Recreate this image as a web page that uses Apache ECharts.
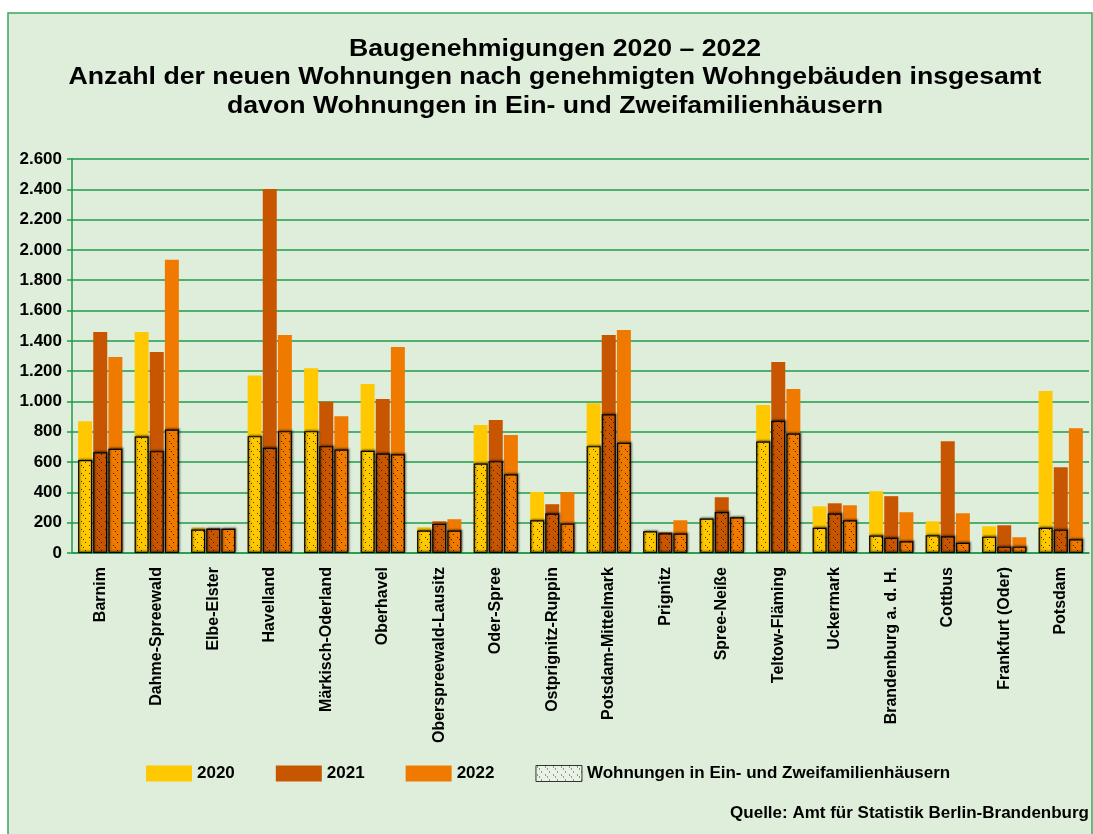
<!DOCTYPE html>
<html>
<head>
<meta charset="utf-8">
<script src="https://cdn.jsdelivr.net/npm/echarts@6/dist/echarts.min.js"></script>
<style>
html, body { margin: 0; padding: 0; background: #fff; }
#chart { width: 1093px; height: 834px; }
</style>
</head>
<body>
<div id="chart"></div>
<script>
/********** Daten **********/
var kreise = ['Barnim', 'Dahme-Spreewald', 'Elbe-Elster', 'Havelland', 'Märkisch-Oderland', 'Oberhavel',
    'Oberspreewald-Lausitz', 'Oder-Spree', 'Ostprignitz-Ruppin', 'Potsdam-Mittelmark', 'Prignitz',
    'Spree-Neiße', 'Teltow-Fläming', 'Uckermark', 'Brandenburg a. d. H.', 'Cottbus', 'Frankfurt (Oder)', 'Potsdam'];

var jahre = ['2020', '2021', '2022'];

// Wohnungen insgesamt
var gesamt2020 = [870, 1459, 168, 1172, 1219, 1115, 170, 844, 403, 989, 143, 227, 976, 308, 408, 209, 176, 1069];
var gesamt2021 = [1459, 1327, 163, 2402, 998, 1016, 209, 877, 322, 1439, 137, 368, 1260, 328, 375, 738, 183, 566];
var gesamt2022 = [1293, 1935, 162, 1439, 903, 1360, 223, 778, 401, 1472, 216, 238, 1082, 315, 269, 262, 104, 824];

// davon in Ein- und Zweifamilienhäusern
var efh2020 = [613, 769, 155, 771, 804, 674, 148, 591, 216, 705, 143, 227, 736, 167, 115, 117, 108, 167];
var efh2021 = [665, 672, 160, 694, 705, 657, 192, 606, 260, 915, 130, 271, 873, 260, 101, 110, 42, 154];
var efh2022 = [688, 815, 160, 804, 683, 652, 148, 520, 194, 727, 128, 236, 789, 216, 77, 68, 42, 90];

var yTicks = { min: 0, max: 2600, step: 200 };

var efhName = 'Wohnungen in Ein- und Zweifamilienhäusern';
var farben = ['#ffc800', '#c85600', '#f07a00'];
var gruen = '#1f9a48';
var schrift = '"Liberation Sans", Arial, sans-serif';

// Punktmuster fuer die EZFH-Saeulen
function muster(grund) {
    var c = document.createElement('canvas');
    c.width = 8;
    c.height = 8;
    var ctx = c.getContext('2d');
    ctx.fillStyle = grund;
    ctx.fillRect(0, 0, 8, 8);
    ctx.fillStyle = 'rgba(0,0,0,0.75)';
    ctx.fillRect(1, 1, 1, 1);
    ctx.fillRect(3, 3, 1, 1);
    ctx.fillRect(5, 6, 1, 1);
    return { image: c, repeat: 'repeat' };
}

var gesamt = [gesamt2020, gesamt2021, gesamt2022];
var efh = [efh2020, efh2021, efh2022];

var series = [];
for (var i = 0; i < 3; i++) {
    series.push({
        name: jahre[i],
        type: 'bar',
        xAxisIndex: 0,
        barWidth: 14,
        barGap: '8%',
        data: gesamt[i],
        itemStyle: { color: farben[i] },
        z: 2
    });
}
for (var j = 0; j < 3; j++) {
    series.push({
        name: efhName,
        type: 'bar',
        xAxisIndex: 1,
        barWidth: 14,
        barGap: '8%',
        data: efh[j],
        itemStyle: {
            color: muster(farben[j]),
            borderColor: '#000',
            borderWidth: 1.2,
            shadowColor: 'rgba(0,0,0,0.45)',
            shadowBlur: 2,
            shadowOffsetX: 1,
            shadowOffsetY: -1
        },
        z: 3
    });
}

var myChart = echarts.init(document.getElementById('chart'));

var option = {
    animation: false,
    graphic: [{
        type: 'rect',
        z: -10,
        shape: { x: 8, y: 13, width: 1084, height: 840 },
        style: { fill: '#dfeedb', stroke: '#3aa85a', lineWidth: 1.5 }
    }, {
        // Titel, etwas breit gezogen wie im Original
        type: 'text',
        x: 555,
        y: 35,
        scaleX: 1.16,
        style: {
            text: 'Baugenehmigungen 2020 – 2022\nAnzahl der neuen Wohnungen nach genehmigten Wohngebäuden insgesamt\ndavon Wohnungen in Ein- und Zweifamilienhäusern',
            font: 'bold 23px "Liberation Sans", Arial, sans-serif',
            lineHeight: 28.5,
            align: 'center',
            verticalAlign: 'top',
            fill: '#000'
        }
    }, {
        type: 'text',
        right: 4,
        top: 805,
        style: {
            text: 'Quelle: Amt für Statistik Berlin-Brandenburg',
            font: 'bold 17px ' + schrift,
            fill: '#000'
        }
    }],
    legend: {
        left: 141,
        top: 760,
        itemWidth: 46,
        itemHeight: 16,
        itemGap: 41,
        textStyle: { fontFamily: schrift, fontWeight: 'bold', fontSize: 17, color: '#000' },
        data: [
            { name: '2020', icon: 'rect' },
            { name: '2021', icon: 'rect' },
            { name: '2022', icon: 'rect' },
            { name: efhName, icon: 'rect', itemStyle: { color: muster('#e8f2e4'), borderColor: '#333', borderWidth: 1 } }
        ],
        selectedMode: false
    },
    grid: { left: 72, right: 4, top: 159, bottom: 281 },
    xAxis: [{
        type: 'category',
        data: kreise,
        axisLine: { lineStyle: { color: gruen, width: 1.5 } },
        axisTick: { lineStyle: { color: gruen, width: 1.5 }, length: 5 },
        axisLabel: {
            rotate: 90,
            interval: 0,
            margin: 14,
            fontFamily: schrift,
            fontWeight: 'bold',
            fontSize: 16,
            color: '#000'
        }
    }, {
        type: 'category',
        data: kreise,
        show: false
    }],
    yAxis: {
        type: 'value',
        min: yTicks.min,
        max: yTicks.max,
        interval: yTicks.step,
        axisLine: { show: true, lineStyle: { color: gruen, width: 1.5 } },
        axisTick: { show: true, length: 5, lineStyle: { color: gruen, width: 1.5 } },
        splitLine: { lineStyle: { color: gruen, width: 1.5 } },
        axisLabel: {
            margin: 10,
            fontFamily: schrift,
            fontWeight: 'bold',
            fontSize: 17,
            color: '#000',
            formatter: function(v) {
                return String(v).replace(/\B(?=(\d{3})+(?!\d))/g, '.');
            }
        }
    },
    series: series
};

myChart.setOption(option);
</script>
</body>
</html>
